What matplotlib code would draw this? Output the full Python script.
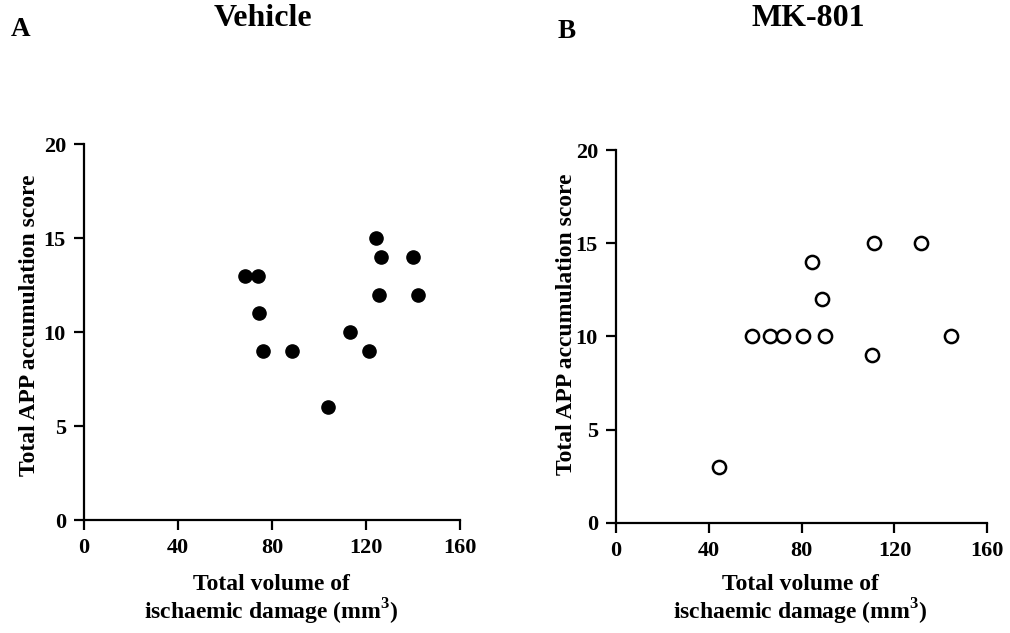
import matplotlib
matplotlib.use("Agg")
import matplotlib.pyplot as plt

# Vehicle group: ischaemic damage volume (mm^3) vs APP accumulation score
vehicle_volume = [68.4, 74.0, 74.5, 76.3, 88.4, 103.8, 113.2, 121.4, 124.1, 126.3, 125.5, 140.0, 142.3]
vehicle_score = [13, 13, 11, 9, 9, 6, 10, 9, 15, 14, 12, 14, 12]

# MK-801 group
mk801_volume = [44.5, 58.6, 66.4, 72.1, 80.5, 90.1, 84.3, 88.7, 110.3, 111.2, 131.5, 144.5]
mk801_score = [3, 10, 10, 10, 10, 10, 14, 12, 9, 15, 15, 10]

x_ticks = [0, 40, 80, 120, 160]
y_ticks = [0, 5, 10, 15, 20]

plt.rcParams['font.family'] = ['Liberation Serif', 'DejaVu Serif']
plt.rcParams['font.weight'] = 'bold'
plt.rcParams['mathtext.fontset'] = 'custom'
plt.rcParams['mathtext.rm'] = 'Liberation Serif:bold'
plt.rcParams['mathtext.bf'] = 'Liberation Serif:bold'

W, H = 1010, 633
fig = plt.figure(figsize=(W / 100, H / 100), dpi=100)
ax_a = fig.add_axes([0.0832, 0.1785, 0.3723, 0.5935])
ax_b = fig.add_axes([0.6099, 0.1743, 0.3676, 0.5887])


def px_text(x, y, s, **kw):
    fig.text(x / W, 1 - y / H, s, ha='center', va='center', fontweight='bold', **kw)


def style(ax, xlab_x, ylab_x, ylab_y):
    ax.set_xlim(0, 160)
    ax.set_ylim(0, 20)
    ax.set_xticks(x_ticks)
    ax.set_yticks(y_ticks)
    for s in ('top', 'right'):
        ax.spines[s].set_visible(False)
    for s in ('left', 'bottom'):
        ax.spines[s].set_linewidth(1.6)
    ax.tick_params(direction='out', length=7, width=1.6, labelsize=16, pad=6)
    for lab in ax.get_xticklabels() + ax.get_yticklabels():
        lab.set_fontweight('bold')
    px_text(ylab_x, ylab_y, 'Total APP accumulation score', fontsize=17, rotation=90)
    px_text(xlab_x, 585, 'Total volume of', fontsize=17)
    px_text(xlab_x, 612, 'ischaemic damage (mm$^{3}$)', fontsize=17)


ax_a.plot(vehicle_volume, vehicle_score, 'o', color='black', markersize=9.5, clip_on=False)
ax_b.plot(mk801_volume, mk801_score, 'o', markerfacecolor='white', markeredgecolor='black',
          markeredgewidth=1.8, markersize=9.5, clip_on=False)

style(ax_a, 271, 30, 325)
style(ax_b, 800, 567, 324)

px_text(263, 19, 'Vehicle', fontsize=23)
px_text(808, 19, 'MK-801', fontsize=23)
px_text(21, 30, 'A', fontsize=19.5)
px_text(567, 32, 'B', fontsize=19.5)

fig.savefig('out.png', dpi=100, facecolor='white')
